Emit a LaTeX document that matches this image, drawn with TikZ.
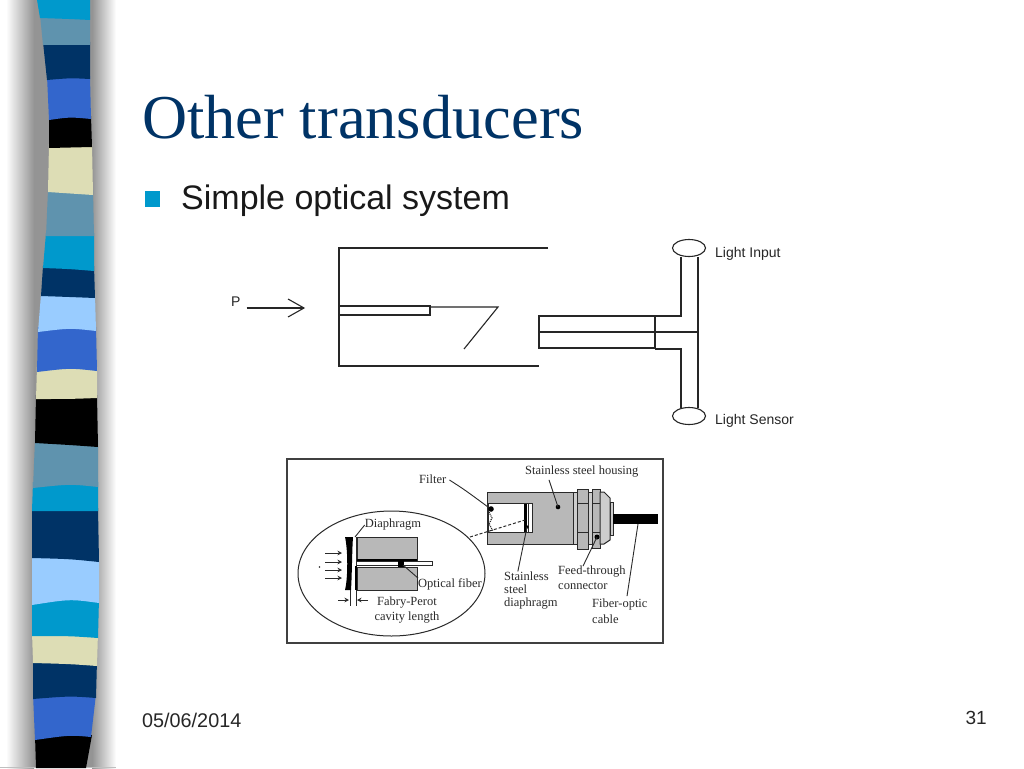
\documentclass[tikz,border=0pt]{standalone}
\usepackage{xcolor}
\usepackage{fontspec}
\setmainfont{Liberation Serif}
\setsansfont{Liberation Sans}
\usepackage{tikz}
\usetikzlibrary{arrows.meta}
\definecolor{navy}{HTML}{003366}
\definecolor{cyanband}{HTML}{0099CC}
\definecolor{steelband}{HTML}{5F93AE}
\definecolor{royalband}{HTML}{3366CC}
\definecolor{beigeband}{HTML}{DDDDB5}
\definecolor{paleband}{HTML}{99CCFF}
\definecolor{inkgray}{HTML}{2A2A2A}
\definecolor{bodygray}{HTML}{B8B8B8}
\tikzset{
    sketch/.style={line width=1.1pt, black!85},
    photo/.style={line width=1pt, inkgray},
    leader/.style={line width=0.9pt, inkgray},
    caption/.style={inner sep=0pt, text=black!85, font=\sffamily\fontsize{14}{16}\selectfont},
    photolabel/.style={inner sep=0pt, text=inkgray, font=\fontsize{12.5}{14}\selectfont},
    tinyarrow/.style={line width=1pt, inkgray, -{Stealth[length=4.5pt,width=4.5pt]}},
}

\begin{document}
\begin{tikzpicture}[x=1pt,y=-1pt]
    \useasboundingbox (0,0) rectangle (1024,768);
    \fill[white] (0,0) rectangle (1024,768);
    % shadow of the strip
    \shade[left color=white, right color=black!42] (6,0) rectangle (34,768);
    \fill[black!42] (34,0) rectangle (92,768);
    \shade[left color=black!42, right color=white] (92,0) rectangle (116,768);
    \fill[black!25] (0,766.5) rectangle (116,768);
    % strip, last band first
    \foreach \ya/\la/\ra/\lb/\rb/\yl/\yr/\ym/\colr in {
        735/35/92/36/86/768/768/768/black,
        694/33/96/35/91/740/737/735/royalband,
        660/33/97/33/96/699/698/696/navy,
        632/32/98/33/97/663/666/664/beigeband,
        598/32/99/32/98/636/638/636/cyanband,
        555/32/99/32/99/605/603/599/paleband,
        508/32/98/32/99/558/562/559/navy,
        482/33/98/32/98/511/511/511/cyanband,
        440/35/98/33/98/488/487/484/steelband,
        395/36/97/35/98/443/447/445/black,
        367/37/97/36/97/399/398/399/beigeband,
        327/38/96/37/97/372/371/368/royalband,
        294/41/95/38/96/332/331/328/paleband,
        266/43/94/41/95/296/298/297/navy,
        233/46/94/43/94/268/271/269/cyanband,
        190/48/93/46/94/236/236/236/steelband,
        144/49/92/48/93/192/195/193/beigeband,
        116/49/91/49/92/148/147/147/black,
        76/47/90/49/91/120/119/117/royalband,
        42/43/90/47/90/80/79/78/navy,
        15/40/90/43/90/45/45/45/steelband,
        0/37/90/40/90/18/20/19/cyanband}{
        \fill[\colr] (\la,\ya) -- (\lb,\yl) .. controls (70,\ym) .. (\rb,\yr) -- (\ra,\ya) -- cycle;
    }
    % slide text
    \node[anchor=base west, inner sep=0pt, text=navy, font=\fontsize{62.4}{66}\selectfont] (title) at (142,138) {Other transducers};
    \fill[cyanband] (145,191) rectangle (160,207);
    \node[anchor=base west, inner sep=0pt, text=black!90, font=\sffamily\fontsize{34}{36}\selectfont] (item) at (181,209) {Simple optical system};
    \node[anchor=base west, inner sep=0pt, text=black!85, font=\sffamily\fontsize{19.8}{22}\selectfont] (date) at (142,727) {05/06/2014};
    \node[anchor=base east, inner sep=0pt, text=black!85, font=\sffamily\fontsize{19}{22}\selectfont] (page) at (987,724) {31};
    % upper sketch
    \draw[sketch] (548,248) -- (339,248) -- (339,366) -- (539,366);
    \draw[sketch, fill=white] (339,306) rectangle (430,315);
    \draw[sketch] (430,307) -- (498,307) -- (464,349);
    \node[caption, anchor=base west] (pin) at (231,306) {P};
    \coordinate (ptip) at (304,308);
    \draw[sketch] (pin.east |- ptip) ++(6,0) -- (ptip);
    \draw[sketch] (288,299) -- (ptip) -- (288,317);
    \draw[sketch] (539,316) rectangle (655,348);
    \draw[sketch] (539,332) -- (655,332);
    \draw[sketch] (655,332) -- (698,332);
    \draw[sketch] (655,316) -- (681,316) -- (681,257);
    \draw[sketch] (655,349) -- (681,349) -- (681,408);
    \draw[sketch] (698,257) -- (698,408);
    \draw[sketch] (689,248) ellipse (16.5 and 8.5);
    \draw[sketch] (689,416) ellipse (16.5 and 8.5);
    \node[caption, anchor=base west] (input) at (715,257) {Light Input};
    \node[caption, anchor=base west] (sensor) at (715,424) {Light Sensor};
    % lower picture
    \draw[line width=1.5pt, black!75] (287,459) rectangle (663,643);
    \draw[photo] (391.5,573.5) ellipse (93.5 and 62.5);
    \fill[bodygray] (357,537) rectangle (417,560);
    \fill[bodygray] (357,567) rectangle (417,590);
    \draw[photo] (357,537) rectangle (417,560);
    \draw[photo] (357,567) rectangle (417,590);
    \draw[line width=1.8pt, black] (356,560) -- (417,560);
    \draw[line width=1.4pt, black] (356,566) -- (356,590);
    \draw[photo, fill=white] (356,561) rectangle (432,565);
    \fill[black] (398,559.5) rectangle (404,567);
    \fill[black] (345,537) .. controls (348,550) and (348,578) .. (345,590) -- (351,590) .. controls (352,575) and (352,550) .. (353,537) -- cycle;
    \draw[photo] (356,537) -- (356,561);
    \foreach \ay in {553,562,570,578}{
        \draw[tinyarrow] (325,\ay) -- (342,\ay);
    }
    \fill[inkgray] (319.5,567) circle (0.9);
    \draw[photo] (350,590) -- (350,606);
    \draw[photo] (356,590) -- (356,606);
    \draw[tinyarrow] (338,600) -- (349,600);
    \draw[tinyarrow] (368,600) -- (357,600);
    \node[photolabel] (diaphragm) at (393,525) {Diaphragm};
    \node[photolabel, anchor=west] (fiber) at (418,584) {Optical fiber};
    \node[photolabel] (fabry) at (407,603) {Fabry-Perot};
    \node[photolabel] (cavity) at (407,618) {cavity length};
    \coordinate (dtip) at (355,537);
    \coordinate (ftip) at (403,565);
    \draw[leader] (diaphragm.west) -- (dtip);
    \draw[leader] (ftip) -- (fiber.north west);
    % housing
    \fill[bodygray] (487,492) rectangle (573,544);
    \draw[photo] (487,492) rectangle (573,544);
    \draw[photo, fill=bodygray!70] (573,492) rectangle (577,544);
    \draw[photo, fill=bodygray] (577,489) rectangle (588,549);
    \draw[photo, fill=bodygray!70] (588,492) rectangle (592,544);
    \draw[photo, fill=bodygray] (592,489) rectangle (600,548);
    \draw[photo, fill=bodygray!70] (600,492) -- (604,492) -- (610,498) -- (610,540) -- (604,544) -- (600,544) -- cycle;
    \draw[photo, fill=bodygray!70] (610,502) rectangle (613,535);
    \foreach \fy in {503,532}{
        \draw[photo] (577,\fy) -- (588,\fy);
        \draw[photo] (592,\fy) -- (600,\fy);
    }
    \fill[black] (613,514) rectangle (658,524);
    \draw[photo, fill=white] (488,503) rectangle (532,532);
    \fill[black] (524,504) rectangle (527,532);
    \draw[photo] (528,504) -- (528,532);
    \fill[black] (491,509) circle (2.8);
    \draw[photo, densely dotted, line width=1.2pt] (489,512) -- (492,518) -- (489,524) -- (493,531);
    \draw[photo, densely dashed] (470,537) -- (525,520);
    \fill[black] (558,507) circle (2.3);
    \fill[black] (597,537) circle (2.5);
    \fill[black] (527,527) circle (1.8);
    \node[photolabel, anchor=west] (filter) at (419,479) {Filter};
    \node[photolabel, anchor=west] (housing) at (525,472) {Stainless steel housing};
    \node[photolabel, anchor=west] (steel1) at (504,576) {Stainless};
    \node[photolabel, anchor=west] (steel2) at (504,589) {steel};
    \node[photolabel, anchor=west] (steel3) at (504,604) {diaphragm};
    \node[photolabel, anchor=west] (feed) at (558,572) {Feed-through};
    \node[photolabel, anchor=west] (conn) at (558,586) {connector};
    \node[photolabel, anchor=west] (optic) at (592,604) {Fiber-optic};
    \node[photolabel, anchor=west] (cable) at (592,619) {cable};
    \coordinate (filtertip) at (488,507);
    \coordinate (housetip) at (558,507);
    \coordinate (steeltip) at (527,527);
    \coordinate (conntip) at (597,537);
    \coordinate (cabletip) at (638,524);
    \draw[leader] (filter.east) ++(3,1) .. controls (465,490) .. (filtertip);
    \draw[leader] (housing.south west) ++(24,2) -- (housetip);
    \draw[leader] (steel1.north east) ++(-31,0) -- (steeltip);
    \draw[leader] (feed.north west) ++(25,0) -- (conntip);
    \draw[leader] (optic.north west) ++(35,-2) -- (cabletip);
\end{tikzpicture}
\end{document}
